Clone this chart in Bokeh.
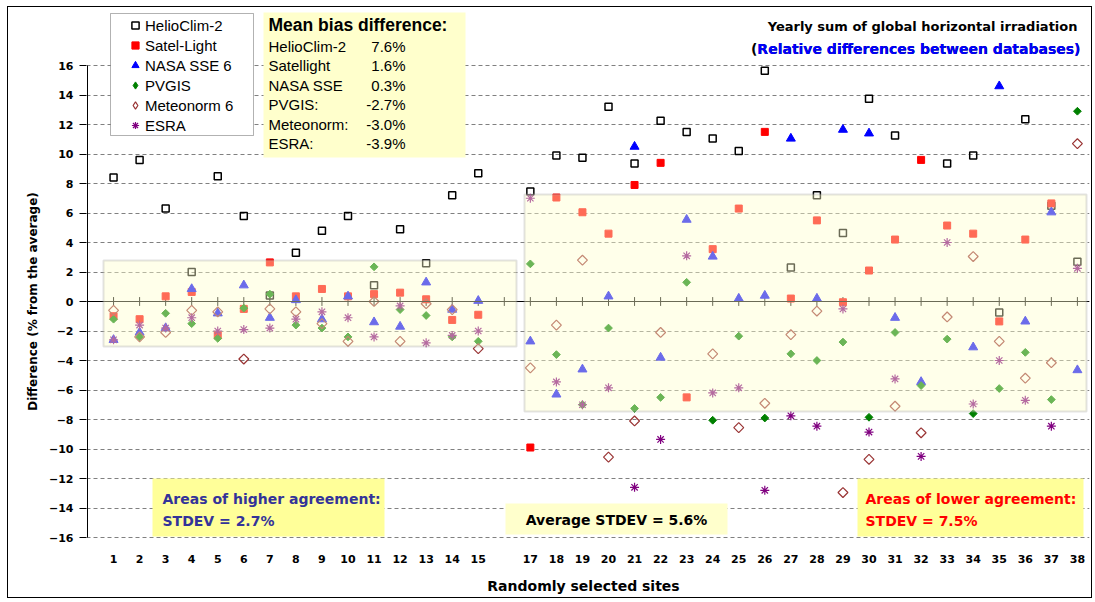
import math
from bokeh.plotting import figure
from bokeh.models import (Range1d, FixedTicker, BoxAnnotation, Label, LabelSet, Span,
                          Legend, LegendItem, ColumnDataSource)
from bokeh.core.properties import value
from bokeh.embed import file_html
from bokeh.resources import INLINE

nan = float("nan")

# ---------------- data ----------------
sites = list(range(1, 16)) + list(range(17, 39))
axis_positions = list(range(1, 39))
y_ticks = list(range(-16, 17, 2))

helioclim = [8.4, 9.6, 6.3, 2.0, 8.5, 5.8, 0.4, 3.3, 4.8, 5.8, 1.1, 4.9, 2.6, 7.2, 8.7,
             7.45, 9.9, 9.75, 13.2, 9.35, 12.25, 11.5, 11.05, 10.2, 15.65, 2.3, 7.2, 4.65,
             13.75, 11.25, nan, 9.35, 9.9, -0.75, 12.35, 6.5, 2.7]
satellight = [-1.0, -1.2, 0.35, 0.65, -2.3, -0.5, 2.65, 0.35, 0.85, 0.35, 0.5, 0.6, 0.15, -1.25, -0.9,
              -9.9, 7.05, 6.05, 4.6, 7.9, 9.4, -6.5, 3.55, 6.3, 11.5, 0.2, 5.5, -0.05,
              2.1, 4.2, 9.6, 5.15, 4.6, -1.35, 4.2, 6.65, nan]
nasa_sse = [-2.6, -2.1, -1.8, 0.85, -0.8, 1.1, -1.1, 0.1, -1.2, 0.35, -1.4, -1.7, 1.3, -0.55, 0.05,
            -2.7, -6.3, -4.6, 0.35, 10.5, -3.8, 5.55, 3.05, 0.2, 0.4, 11.05, 0.2, 11.65,
            11.4, -1.1, -5.45, nan, -3.1, 14.6, -1.35, 6.05, -4.65]
pvgis = [-1.2, -2.4, -0.8, -1.5, -2.5, -0.45, 0.5, -1.6, -1.8, -2.4, 2.35, -0.55, -0.95, -2.4, -2.7,
         2.55, -3.6, -7.0, -1.8, -7.25, -6.5, 1.3, -8.05, -2.35, -7.9, -3.55, -4.0, -2.75,
         -7.85, -2.1, -5.7, -2.55, -7.6, -5.9, -3.45, -6.65, 12.9]
meteonorm = [-0.6, -2.4, -2.1, -0.6, -0.7, -3.9, -0.5, -0.7, -1.5, -2.7, 0.0, -2.7, -0.15, -0.55, -3.2,
             -4.5, -1.6, 2.8, -10.55, -8.1, -2.1, nan, -3.55, -8.55, -6.9, -2.25, -0.65, -12.95,
             -10.7, -7.1, -8.9, -1.05, 3.05, -2.7, -5.2, -4.15, 10.7]
esra = [-2.6, -1.6, -1.8, -1.1, -2.0, -1.9, -1.8, -1.2, -0.7, -1.1, -2.4, -0.3, -2.8, -2.3, -2.0,
        7.0, -5.45, -7.0, -5.85, -12.6, -9.35, 3.1, -6.2, -5.85, -12.8, -7.75, -8.45, -0.5,
        -8.85, -5.25, -10.5, 4.0, -6.95, -4.0, -6.7, -8.45, 2.25]

bias_names = ["HelioClim-2", "Satellight", "NASA SSE", "PVGIS:", "Meteonorm:", "ESRA:"]
bias_values = ["7.6%", "1.6%", "0.3%", "-2.7%", "-3.0%", "-3.9%"]

# ---------------- layout ----------------
OX, OY = 8, 7                 # page position of the canvas (css margin + border)
W, H = 1085, 592
ML, MR, MT, MB = 78, 4, 0, 4
SX = 26.05                    # px per site
SY = 14.75                    # px per percent
X0_PAGE, Y0_PAGE = 87, 301    # page position of (0, 0)

x_start = -(X0_PAGE - (OX + ML)) / SX
x_end = x_start + (W - ML - MR) / SX
y_top = (Y0_PAGE - (OY + MT)) / SY
y_bot = y_top - (H - MT - MB) / SY


def dx(page_x):
    return (page_x - X0_PAGE) / SX


def dy(page_y):
    return (Y0_PAGE - page_y) / SY


p = figure(width=W, height=H, output_backend="svg", toolbar_location=None,
           x_range=Range1d(x_start, x_end), y_range=Range1d(y_bot, y_top),
           x_axis_location=None,
           min_border_left=ML, min_border_right=MR, min_border_top=MT, min_border_bottom=MB,
           styles={"border": "1px solid black", "margin-left": "7px", "margin-top": "6px"})
p.outline_line_color = None
p.background_fill_color = "white"
p.border_fill_color = "white"

# grid
p.xgrid.visible = False
p.ygrid.ticker = FixedTicker(ticks=y_ticks)
p.ygrid.grid_line_color = "#808080"
p.ygrid.grid_line_dash = "4 3"
p.ygrid.grid_line_width = 1

# y axis (ticks + labels); the axis line itself is drawn between the outer ticks
ya = p.yaxis[0]
ya.ticker = FixedTicker(ticks=y_ticks)
ya.axis_line_color = None
ya.major_tick_line_color = "black"
ya.major_tick_out = 7
ya.major_tick_in = 0
ya.minor_tick_line_color = None
ya.major_label_standoff = 6
ya.major_label_text_font = "DejaVu Sans"
ya.major_label_text_font_style = "bold"
ya.major_label_text_font_size = "11px"
ya.major_label_text_color = "black"
ya.axis_label = "Difference (% from the average)"
ya.axis_label_text_font = "DejaVu Sans"
ya.axis_label_text_font_style = "bold"
ya.axis_label_text_font_size = "12px"
ya.axis_label_text_color = "black"
ya.axis_label_standoff = 6

p.segment(x0=[0], y0=[min(y_ticks)], x1=[0], y1=[max(y_ticks)], line_color="black", line_width=1)

# x axis line at zero with crossing tick marks
p.add_layout(Span(location=0, dimension="width", line_color="black", line_width=1))
p.segment(x0=axis_positions, y0=[-0.3] * len(axis_positions),
          x1=axis_positions, y1=[0.3] * len(axis_positions), line_color="black", line_width=1)

# x tick labels
tick_src = ColumnDataSource(dict(x=sites, text=[str(s) for s in sites]))
p.add_layout(LabelSet(x="x", y=dy(558), source=tick_src, text="text",
                      text_font=value("DejaVu Sans"), text_font_style="bold",
                      text_font_size=value("11px"), text_color="black",
                      text_align="center", text_baseline="middle"))

# ---------------- series ----------------
r_helio = p.scatter(sites, helioclim, marker="square", size=7, fill_color=None,
                    line_color="black", line_width=1.5)
r_sat = p.scatter(sites, satellight, marker="square", size=7, fill_color="#FF0000",
                  line_color="#FF0000")
r_nasa = p.scatter(sites, nasa_sse, marker="triangle", size=9, fill_color="#0000FF",
                   line_color="#0000FF")
r_pv = p.scatter(sites, pvgis, marker="square", angle=math.pi / 4, size=5.5,
                 fill_color="#008000", line_color="#008000")
r_met = p.scatter(sites, meteonorm, marker="square", angle=math.pi / 4, size=7,
                  fill_color=None, line_color="#993333", line_width=1.2)
r_esra = p.scatter(sites, esra, marker="asterisk", size=9, line_color="#800080",
                   line_width=1.2)

# legend-only glyphs for the diamond shapes (nothing drawn in the plot)
lg_pv = p.scatter([nan], [nan], marker="diamond", size=9, fill_color="#008000", line_color="#008000")
lg_met = p.scatter([nan], [nan], marker="diamond", size=9, fill_color=None, line_color="#993333",
                   line_width=1.2)

# ---------------- shaded areas ----------------
area_style = dict(fill_color="#FFFFCC", fill_alpha=0.42, line_color="#A0A0A0", line_width=2)
p.add_layout(BoxAnnotation(left=dx(103), right=dx(516), top=dy(260), bottom=dy(346), **area_style))
p.add_layout(BoxAnnotation(left=dx(524), right=dx(1086), top=dy(194), bottom=dy(411), **area_style))

# bottom annotation boxes
p.add_layout(BoxAnnotation(left=dx(152), right=dx(384), top=dy(478), bottom=dy(536),
                           fill_color="#FFFF99", fill_alpha=1, line_color=None))
p.add_layout(BoxAnnotation(left=dx(505), right=dx(727), top=dy(503), bottom=dy(534),
                           fill_color="#FFFFCC", fill_alpha=1, line_color=None))
p.add_layout(BoxAnnotation(left=dx(857), right=dx(1083), top=dy(478), bottom=dy(536),
                           fill_color="#FFFF99", fill_alpha=1, line_color=None))

# mean bias box & legend frame
p.add_layout(BoxAnnotation(left=dx(263), right=dx(465), top=dy(12), bottom=dy(157),
                           fill_color="#FFFFCC", fill_alpha=1, line_color=None))
p.add_layout(BoxAnnotation(left=dx(110), right=dx(253), top=dy(13), bottom=dy(135),
                           fill_color="white", fill_alpha=1, line_color="black", line_width=1))


def lab(x, y, text, size, color="black", bold=False, align="left", font="DejaVu Sans", angle=0):
    p.add_layout(Label(x=x, y=y, text=text, text_font=font, text_font_size=size,
                       text_font_style="bold" if bold else "normal", text_color=color,
                       text_align=align, text_baseline="middle", angle=angle))


lab(dx(583), dy(585), "Randomly selected sites", "14px", bold=True, align="center")

# mean bias texts
lab(dx(268), dy(24), "Mean bias difference:", "17.5px", bold=True, font="Liberation Sans")
for i, (nm, vl) in enumerate(zip(bias_names, bias_values)):
    yy = dy(46 + 19.4 * i)
    lab(dx(268), yy, nm, "15px", font="Liberation Sans")
    lab(dx(405), yy, vl, "15px", align="right", font="Liberation Sans")

# title
lab(dx(1077), dy(26), "Yearly sum of global horizontal irradiation", "13px", bold=True, align="right")
lab(dx(1080), dy(48), "(Relative differences between databases)", "14px", color="black", bold=True, align="right")
lab(dx(1080), dy(48), "Relative differences between databases)", "14px", color="#0000FF", bold=True, align="right")

# bottom annotations
lab(dx(162), dy(498), "Areas of higher agreement:", "14px", color="#333399", bold=True)
lab(dx(162), dy(520), "STDEV = 2.7%", "14px", color="#333399", bold=True)
lab(dx(616), dy(519), "Average STDEV = 5.6%", "14px", color="black", bold=True, align="center")
lab(dx(865), dy(498), "Areas of lower agreement:", "14px", color="#FF0000", bold=True)
lab(dx(865), dy(520), "STDEV = 7.5%", "14px", color="#FF0000", bold=True)

# legend (position in px from the frame's bottom-left corner)
leg_left_page, leg_bottom_page = 126, 135
legend = Legend(items=[
    LegendItem(label="HelioClim-2", renderers=[r_helio]),
    LegendItem(label="Satel-Light", renderers=[r_sat]),
    LegendItem(label="NASA SSE 6", renderers=[r_nasa]),
    LegendItem(label="PVGIS", renderers=[lg_pv]),
    LegendItem(label="Meteonorm 6", renderers=[lg_met]),
    LegendItem(label="ESRA", renderers=[r_esra]),
], location=(leg_left_page - (OX + ML), (OY + H - MB) - leg_bottom_page),
    glyph_width=18, glyph_height=20, label_height=20, label_standoff=1,
    padding=0, spacing=0, margin=0, border_line_color=None, background_fill_alpha=0,
    label_text_font="Liberation Sans", label_text_font_size="15px", label_text_color="black")
p.add_layout(legend)

open("out.html", "w").write(file_html(p, INLINE))
